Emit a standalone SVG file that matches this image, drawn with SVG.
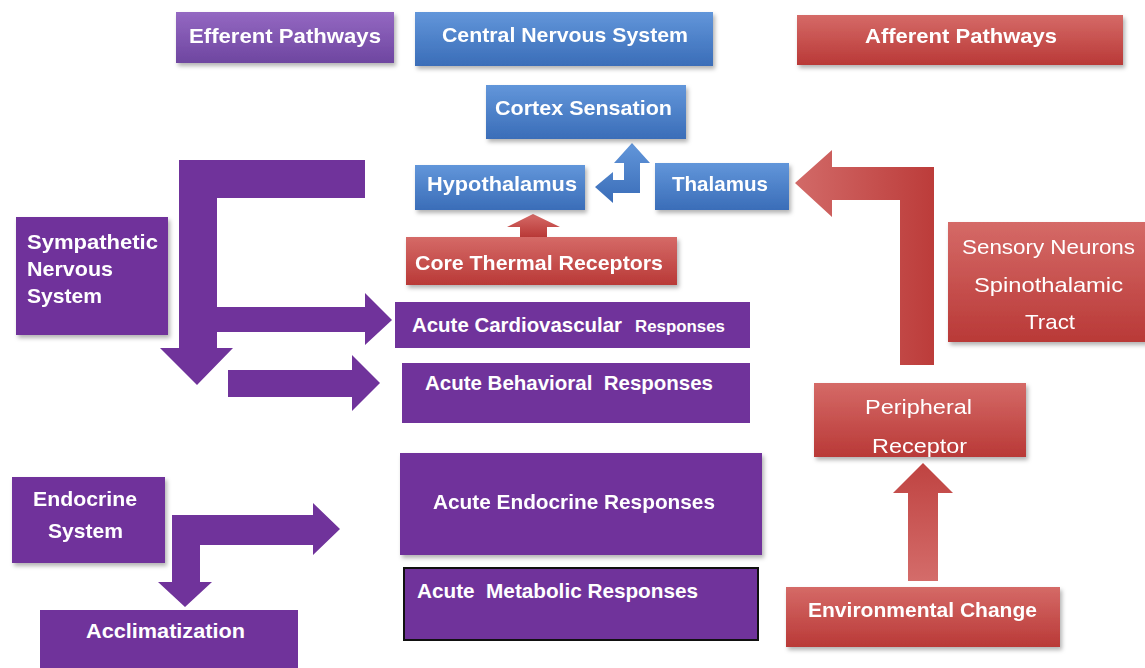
<svg xmlns="http://www.w3.org/2000/svg" width="1145" height="668" viewBox="0 0 1145 668">
<style>
.t{font-family:"Liberation Sans",Arial,sans-serif;font-weight:bold;font-size:21px;fill:#ffffff;white-space:pre}
.n{font-weight:normal}
.s{font-size:16px}
.pf{fill:#70339B}
</style>
<defs>
<linearGradient id="gBlue" x1="0" y1="0" x2="0" y2="1"><stop offset="0" stop-color="#6296DA"/><stop offset="1" stop-color="#3A6DB8"/></linearGradient>
<linearGradient id="gRed" x1="0" y1="0" x2="0" y2="1"><stop offset="0" stop-color="#D56A67"/><stop offset="1" stop-color="#B93937"/></linearGradient>
<linearGradient id="gPur" x1="0" y1="0" x2="0" y2="1"><stop offset="0" stop-color="#9468C2"/><stop offset="1" stop-color="#6E46A0"/></linearGradient>
<linearGradient id="gRedH" x1="0" y1="0" x2="1" y2="0"><stop offset="0" stop-color="#D26A68"/><stop offset="1" stop-color="#BC3C3A"/></linearGradient>
<linearGradient id="gRedV" x1="0" y1="0" x2="0" y2="1"><stop offset="0" stop-color="#BF4341"/><stop offset="1" stop-color="#D46C6A"/></linearGradient>
<filter id="sh" x="-10%" y="-10%" width="130%" height="140%"><feDropShadow dx="2" dy="3" stdDeviation="2" flood-color="#000" flood-opacity="0.3"/></filter>
<clipPath id="cpPer"><rect x="814" y="383" width="212" height="74"/></clipPath>
</defs>
<rect width="1145" height="668" fill="#ffffff"/>

<g id="connectors">
<path id="c-sympathetic" class="pf" d="M365,160 L179,160 L179,348 L160,348 L197,385 L233,348 L217,348 L217,332 L365,332 L365,345 L392,320 L365,293 L365,307 L217,307 L217,198 L365,198 Z"/>
<path id="c-behavioral" class="pf" d="M228,370 L352,370 L352,355 L380,383 L352,411 L352,397 L228,397 Z"/>
<path id="c-endocrine" class="pf" d="M172,515 L313,515 L313,503 L340,529 L313,555 L313,545 L200,545 L200,582 L212,582 L185,607 L158,582 L172,582 Z"/>
<path id="c-thal-hypo-cortex" fill="url(#gBlue)" d="M640,193 L613,193 L613,203 L595,187 L613,172 L613,180 L624,180 L624,163 L614,163 L632,143 L650,163 L640,163 Z"/>
<path id="c-core-hypo" fill="url(#gRed)" d="M520,237 L520,227 L507,227 L533,214 L560,227 L547,227 L547,237 Z"/>
<path id="c-sensory" fill="url(#gRedH)" d="M934,365 L900,365 L900,200 L832,200 L832,217 L795,183 L832,150 L832,167 L934,167 Z"/>
<path id="c-env-periph" fill="url(#gRedV)" d="M908,581 L908,493 L893,493 L923,463 L953,493 L938,493 L938,581 Z"/>
</g>

<g id="efferent" filter="url(#sh)"><rect x="176" y="12" width="218" height="51" fill="url(#gPur)"/><text class="t" x="189" y="43" textLength="192" lengthAdjust="spacingAndGlyphs">Efferent Pathways</text></g>
<g id="cns" filter="url(#sh)"><rect x="415" y="12" width="298" height="54" fill="url(#gBlue)"/><text class="t" x="442" y="42" textLength="246" lengthAdjust="spacingAndGlyphs">Central Nervous System</text></g>
<g id="afferent" filter="url(#sh)"><rect x="797" y="15" width="326" height="50" fill="url(#gRed)"/><text class="t" x="865" y="43" textLength="192" lengthAdjust="spacingAndGlyphs">Afferent Pathways</text></g>
<g id="cortex" filter="url(#sh)"><rect x="486" y="85" width="200" height="54" fill="url(#gBlue)"/><text class="t" x="495" y="115" textLength="177" lengthAdjust="spacingAndGlyphs">Cortex Sensation</text></g>
<g id="hypothalamus" filter="url(#sh)"><rect x="415" y="165" width="170" height="45" fill="url(#gBlue)"/><text class="t" x="427" y="191" textLength="150" lengthAdjust="spacingAndGlyphs">Hypothalamus</text></g>
<g id="thalamus" filter="url(#sh)"><rect x="655" y="163" width="134" height="47" fill="url(#gBlue)"/><text class="t" x="672" y="191" textLength="96" lengthAdjust="spacingAndGlyphs">Thalamus</text></g>
<g id="core-thermal" filter="url(#sh)"><rect x="406" y="237" width="271" height="48" fill="url(#gRed)"/><text class="t" x="415" y="270" textLength="248" lengthAdjust="spacingAndGlyphs">Core Thermal Receptors</text></g>
<g id="sensory" filter="url(#sh)"><rect x="948" y="222" width="200" height="120" fill="url(#gRed)"/>
<text class="t n" x="962" y="254" textLength="173" lengthAdjust="spacingAndGlyphs">Sensory Neurons</text>
<text class="t n" x="974" y="292" textLength="149" lengthAdjust="spacingAndGlyphs">Spinothalamic</text>
<text class="t n" x="1025" y="329" textLength="50" lengthAdjust="spacingAndGlyphs">Tract</text></g>
<g id="sympathetic" filter="url(#sh)"><rect x="16" y="217" width="152" height="118" class="pf"/>
<text class="t" x="27" y="249" textLength="131" lengthAdjust="spacingAndGlyphs">Sympathetic</text>
<text class="t" x="27" y="276" textLength="86" lengthAdjust="spacingAndGlyphs">Nervous</text>
<text class="t" x="27" y="303" textLength="75" lengthAdjust="spacingAndGlyphs">System</text></g>
<g id="cardio"><rect x="395" y="302" width="355" height="46" class="pf"/>
<text class="t" x="412" y="332" textLength="210" lengthAdjust="spacingAndGlyphs">Acute Cardiovascular</text>
<text class="t s" x="635" y="332" textLength="90" lengthAdjust="spacingAndGlyphs">Responses</text></g>
<g id="behavioral"><rect x="402" y="363" width="348" height="60" class="pf"/>
<text class="t" x="425" y="390" textLength="288" lengthAdjust="spacingAndGlyphs" xml:space="preserve">Acute Behavioral  Responses</text></g>
<g id="endocrine-system" filter="url(#sh)"><rect x="12" y="477" width="153" height="86" class="pf"/>
<text class="t" x="33" y="506" textLength="104" lengthAdjust="spacingAndGlyphs">Endocrine</text>
<text class="t" x="48" y="538" textLength="75" lengthAdjust="spacingAndGlyphs">System</text></g>
<g id="acclimatization"><rect x="40" y="610" width="258" height="62" class="pf"/>
<text class="t" x="86" y="638" textLength="159" lengthAdjust="spacingAndGlyphs">Acclimatization</text></g>
<g id="acute-endocrine" filter="url(#sh)"><rect x="400" y="453" width="362" height="102" class="pf"/>
<text class="t" x="433" y="509" textLength="282" lengthAdjust="spacingAndGlyphs">Acute Endocrine Responses</text></g>
<g id="acute-metabolic"><rect x="404" y="568" width="354" height="72" class="pf" stroke="#111111" stroke-width="2"/>
<text class="t" x="417" y="598" textLength="281" lengthAdjust="spacingAndGlyphs" xml:space="preserve">Acute  Metabolic Responses</text></g>
<g id="peripheral" filter="url(#sh)"><rect x="814" y="383" width="212" height="74" fill="url(#gRed)"/>
<text class="t n" x="865" y="414" textLength="107" lengthAdjust="spacingAndGlyphs">Peripheral</text>
<text class="t n" x="872" y="453" textLength="95" lengthAdjust="spacingAndGlyphs" clip-path="url(#cpPer)">Receptor</text></g>
<g id="environmental" filter="url(#sh)"><rect x="786" y="587" width="274" height="60" fill="url(#gRed)"/>
<text class="t" x="808" y="617" textLength="229" lengthAdjust="spacingAndGlyphs">Environmental Change</text></g>
</svg>
